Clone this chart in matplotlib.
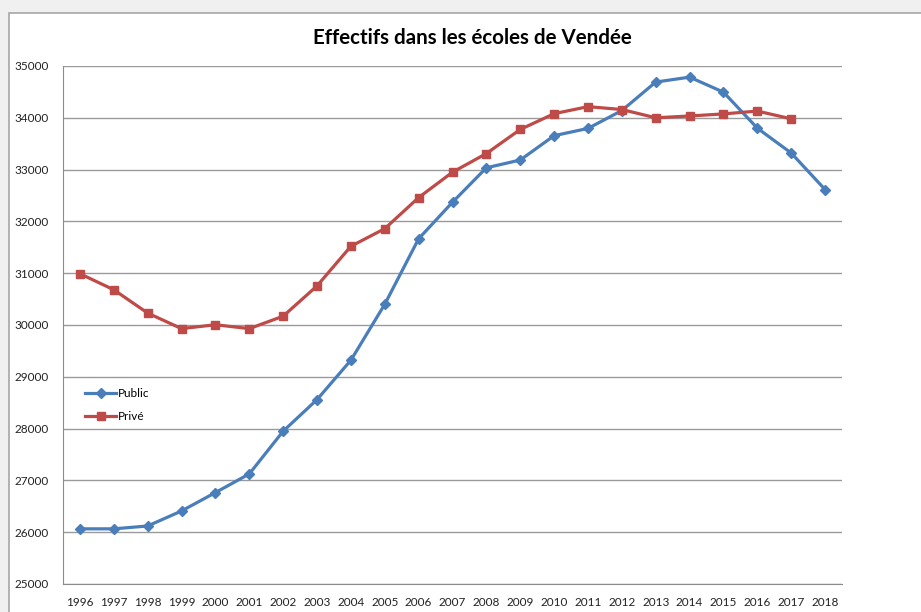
import numpy as np
import matplotlib.pyplot as plt
from matplotlib.patches import Rectangle

# donnees
annees = [str(a) for a in range(1996, 2019)]
public = [26065, 26065, 26120, 26410, 26765, 27125, 27950, 28560, 29320, 30400,
          31665, 32370, 33035, 33185, 33655, 33795, 34140, 34690, 34785, 34495,
          33800, 33320, 32615]
prive = [30990, 30680, 30230, 29930, 30005, 29930, 30170, 30755, 31520, 31860,
         32460, 32950, 33310, 33775, 34080, 34215, 34160, 34000, 34035, 34075,
         34130, 33980]

plt.rcParams['font.family'] = ['Lato', 'DejaVu Sans']

fig = plt.figure(figsize=(9.21, 6.12), dpi=100)
fig.patch.set_facecolor('#f0f0f0')

# cadre blanc du graphique
fig.patches.append(Rectangle((9 / 921, -0.01), 1.0, (612 - 13) / 612 + 0.01,
                             transform=fig.transFigure, facecolor='white',
                             edgecolor='#a6a6a6', linewidth=1.2, zorder=-1))

ax = fig.add_axes([63 / 921, (612 - 584) / 612, (842 - 63) / 921, (584 - 66) / 612])
ax.set_zorder(2)
ax.set_facecolor('white')

x = np.arange(len(annees))
ax.plot(x, public, color='#4A7EBB', linewidth=2.3, marker='D', markersize=5.5,
        label='Public', zorder=3)
ax.plot(x[:len(prive)], prive, color='#BE4B48', linewidth=2.3, marker='s', markersize=6,
        label='Privé', zorder=3)

ax.set_xlim(-0.5, len(annees) - 0.5)
ax.set_ylim(25000, 35000)
ax.set_yticks(np.arange(25000, 35001, 1000))
ax.set_xticks(x)
ax.set_xticklabels(annees)
ax.yaxis.grid(True, color='#9a9a9a', linewidth=1)
ax.set_axisbelow(True)
ax.tick_params(length=0, labelsize=8.5, colors='#222222')
ax.tick_params(axis='x', pad=9)
ax.tick_params(axis='y', pad=10)

for s in ['top', 'right']:
    ax.spines[s].set_visible(False)
for s in ['left', 'bottom']:
    ax.spines[s].set_color('#8c8c8c')

fig.text(472 / 921, 1 - 38 / 612, 'Effectifs dans les écoles de Vendée',
         ha='center', va='center', fontsize=14.8, fontweight='bold', zorder=3)

ax.legend(loc='upper left', bbox_to_anchor=(0.015, 0.398), frameon=False,
          fontsize=8.5, handlelength=2.6, handletextpad=0.2, labelspacing=1.0)

fig.savefig('out.png', dpi=100)
